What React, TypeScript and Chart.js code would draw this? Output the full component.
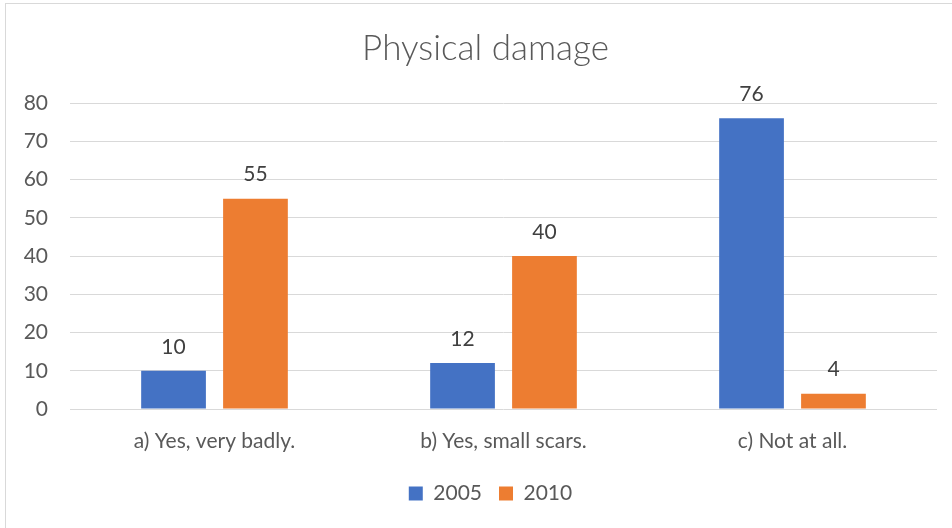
import React, { useEffect, useRef } from "react";
import { Chart, registerables } from "chart.js";

Chart.register(...registerables);

const categories = ["a) Yes, very badly.", "b) Yes, small scars.", "c) Not at all."];
const series2005 = [10, 12, 76];
const series2010 = [55, 40, 4];
const yTicks = [0, 10, 20, 30, 40, 50, 60, 70, 80];

const FONT = "Lato, 'Noto Sans', sans-serif";

const borderPlugin = {
  id: "frameBorder",
  beforeDraw(chart: any) {
    const ctx = chart.ctx;
    ctx.save();
    ctx.strokeStyle = "#d9d9d9";
    ctx.lineWidth = 1;
    ctx.strokeRect(5.5, 3.5, chart.width + 10, chart.height + 10);
    ctx.restore();
  },
};

const shiftPlugin = {
  id: "shiftBlocks",
  afterLayout(chart: any) {
    if (chart.legend) {
      chart.legend.left += 22;
      chart.legend.right += 22;
    }
    if (chart.titleBlock) {
      chart.titleBlock.left += 17;
      chart.titleBlock.right += 17;
    }
  },
};

const labelPlugin = {
  id: "valueLabels",
  afterDatasetsDraw(chart: any) {
    const ctx = chart.ctx;
    ctx.save();
    ctx.font = `21px ${FONT}`;
    ctx.fillStyle = "#404040";
    ctx.textAlign = "center";
    ctx.textBaseline = "middle";
    chart.data.datasets.forEach((ds: any, i: number) => {
      const meta = chart.getDatasetMeta(i);
      meta.data.forEach((bar: any, j: number) => {
        ctx.fillText(String(ds.data[j]), bar.x, bar.y - 24);
      });
    });
    ctx.restore();
  },
};

export default function App() {
  const ref = useRef<HTMLCanvasElement>(null);
  useEffect(() => {
    document.body.style.margin = "0";
    const chart = new Chart(ref.current as HTMLCanvasElement, {
      type: "bar",
      data: {
        labels: categories,
        datasets: [
          {
            label: "2005",
            data: series2005,
            backgroundColor: "#4472C4",
            categoryPercentage: 0.567,
            barPercentage: 0.79,
          },
          {
            label: "2010",
            data: series2010,
            backgroundColor: "#ED7D31",
            categoryPercentage: 0.567,
            barPercentage: 0.79,
          },
        ],
      },
      options: {
        animation: false,
        responsive: false,
        maintainAspectRatio: false,
        layout: { padding: { left: 0, right: 15, top: 0, bottom: 14 } },
        plugins: {
          title: {
            display: true,
            text: "Physical damage",
            color: "#595959",
            font: { family: FONT, size: 35, weight: "300" as any },
            padding: { top: 28, bottom: 33 },
          },
          legend: {
            position: "bottom",
            labels: {
              color: "#595959",
              font: { family: FONT, size: 21 },
              boxWidth: 14,
              boxHeight: 14,
              padding: 17,
            },
          },
          tooltip: { enabled: false },
        },
        scales: {
          x: {
            grid: { display: false, drawTicks: false },
            border: { display: false },
            ticks: { color: "#595959", font: { family: FONT, size: 21 }, padding: 20 },
            afterFit: (s: any) => {
              s.height = 57;
            },
          },
          y: {
            min: 0,
            max: 80,
            afterBuildTicks: (s: any) => {
              s.ticks = yTicks.map((v) => ({ value: v }));
            },
            grid: { color: "#d9d9d9", drawTicks: false, lineWidth: 1 },
            border: { display: false },
            ticks: { color: "#595959", font: { family: FONT, size: 21 }, padding: 22 },
            afterFit: (s: any) => {
              s.width = 70;
            },
          },
        },
      },
      plugins: [borderPlugin, shiftPlugin, labelPlugin],
    });
    return () => chart.destroy();
  }, []);
  return <canvas ref={ref} width={952} height={528} style={{ display: "block" }} />;
}
